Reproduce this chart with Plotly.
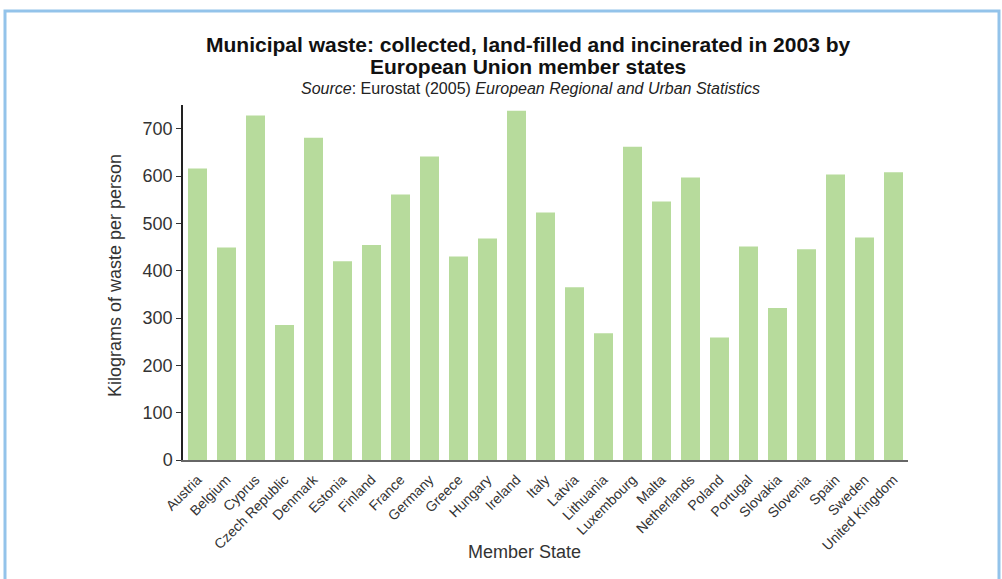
import plotly.graph_objects as go

countries = ["Austria", "Belgium", "Cyprus", "Czech Republic", "Denmark", "Estonia",
             "Finland", "France", "Germany", "Greece", "Hungary", "Ireland", "Italy",
             "Latvia", "Lithuania", "Luxembourg", "Malta", "Netherlands", "Poland",
             "Portugal", "Slovakia", "Slovenia", "Spain", "Sweden", "United Kingdom"]
waste_kg = [616, 449, 728, 285, 681, 420, 454, 561, 641, 430, 468, 738, 523,
            365, 268, 662, 546, 597, 259, 451, 321, 445, 603, 470, 608]
y_ticks = [0, 100, 200, 300, 400, 500, 600, 700]

FONT = "Liberation Sans, Arial, Helvetica, sans-serif"

fig = go.Figure(go.Bar(x=countries, y=waste_kg, marker_color="#b7db9c",
                       marker_line_width=0))

L, R, T, B = 183, 908, 105, 460
W, H = 1002, 579
def px(x):
    return (x - L) / (R - L)
def py(y):
    return (B - y) / (B - T)

fig.update_layout(
    width=W, height=H,
    margin=dict(l=L, r=W - R, t=T, b=H - B, autoexpand=False),
    paper_bgcolor="white", plot_bgcolor="white",
    bargap=0.345,
    showlegend=False,
    font=dict(family=FONT, color="#222222"),
    xaxis=dict(
        tickangle=-45, tickfont=dict(size=14, color="#333333"),
        showline=True, linecolor="#666666", linewidth=2,
        ticks="", showgrid=False, automargin=False, ticklabelstandoff=4,
    ),
    yaxis=dict(
        range=[0, 750], tickvals=y_ticks,
        tickfont=dict(size=18, color="#333333"),
        showline=True, linecolor="#222222", linewidth=1.5,
        ticks="outside", ticklen=5, tickcolor="#333333",
        showgrid=False, zeroline=False, automargin=False,
    ),
    annotations=[
        dict(text="<b>Municipal waste: collected, land-filled and incinerated in 2003 by</b>",
             xref="paper", yref="paper", x=px(528), y=py(44), xanchor="center", yanchor="middle",
             showarrow=False, font=dict(size=21, color="#111111", family=FONT)),
        dict(text="<b>European Union member states</b>",
             xref="paper", yref="paper", x=px(528), y=py(67), xanchor="center", yanchor="middle",
             showarrow=False, font=dict(size=21, color="#111111", family=FONT)),
        dict(text="<i>Source</i>: Eurostat (2005) <i>European Regional and Urban Statistics</i>",
             xref="paper", yref="paper", x=px(530), y=py(88), xanchor="center", yanchor="middle",
             showarrow=False, font=dict(size=16, color="#222222", family=FONT)),
        dict(text="Member State",
             xref="paper", yref="paper", x=px(524), y=py(552), xanchor="center", yanchor="middle",
             showarrow=False, font=dict(size=18, color="#333333", family=FONT)),
        dict(text="Kilograms of waste per person", textangle=-90,
             xref="paper", yref="paper", x=px(115), y=py(276), xanchor="center", yanchor="middle",
             showarrow=False, font=dict(size=18, color="#333333", family=FONT)),
    ],
    shapes=[
        dict(type="rect", xref="paper", yref="paper",
             x0=px(5), x1=px(999), y0=py(600), y1=py(11),
             line=dict(color="#93c3ea", width=3), fillcolor="rgba(0,0,0,0)", layer="below"),
    ],
)

fig.write_html("out.html", config={"displayModeBar": False},
               post_script="document.body.style.margin='0';")
